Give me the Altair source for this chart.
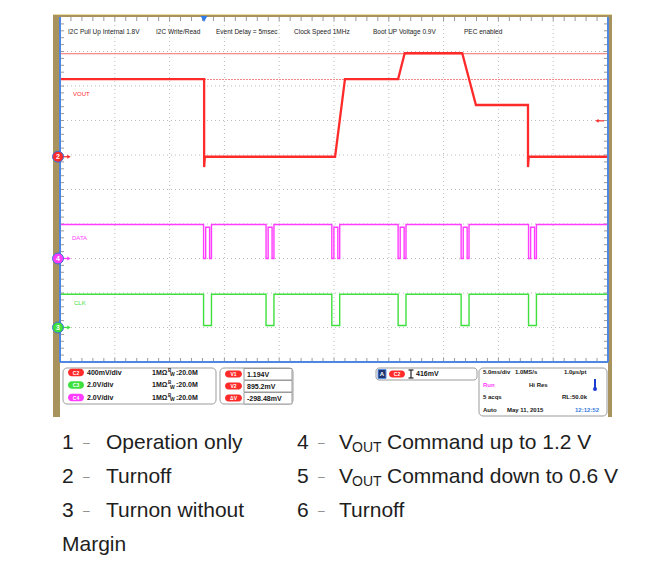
import altair as alt
import pandas as pd

# ---------------- values ----------------
# time axis: 5 ms/div, 10 divisions
vout_time_ms = [0.0, 13.15, 13.15, 13.22, 25.10, 26.00, 30.85, 31.45, 36.70, 37.95, 42.70, 42.70, 42.77, 50.0]
vout_volts = [0.90, 0.90, -0.12, 0.00, 0.00, 0.90, 0.90, 1.20, 1.20, 0.60, 0.60, -0.12, 0.00, 0.00]

burst_start_ms = [13.10, 18.80, 24.80, 30.85, 36.60, 42.75]
data_high_v = 1.97
clk_high_v = 1.93
data_pulse_dt_ms = [0.0, 0.0, 0.19, 0.19, 0.55, 0.55, 0.72, 0.72]
data_pulse_level = [1.0, 0.0, 0.0, 0.92, 0.92, 0.0, 0.0, 1.0]
clk_pulse_dt_ms = [0.0, 0.0, 0.72, 0.72]
clk_pulse_level = [1.0, 0.06, 0.06, 1.0]

channel_names = ["VOUT", "DATA", "CLK"]
channel_ids = ["2", "4", "3"]
channel_volts_per_div = [0.4, 2.0, 2.0]
channel_ground_div = [5.95, 3.0, 1.0]
channel_colors = ["#ff2b2b", "#ff3cff", "#3ee03e"]

cursor_volts = [1.194, 0.8952]
trigger_level_v = 0.416
trigger_time_ms = 13.14

grid_time_ms = [5, 10, 15, 20, 25, 30, 35, 40, 45]
grid_div = [1, 2, 3, 4, 5, 6, 7, 8, 9]
minor_time_ms = list(range(1, 50))
minor_div = [round(0.2 * i, 1) for i in range(1, 50)]

header_notes = ["I2C Pull Up Internal 1.8V", "I2C Write/Read", "Event Delay = 5msec",
                "Clock Speed 1MHz", "Boot UP Voltage 0.9V", "PEC enabled"]

# ---------------- layout helpers ----------------
W, H = 548, 345
X0, Y0 = 60, 17
PANEL_FONT = "Liberation Sans"
CAP_FONT = "Liberation Sans"

one = pd.DataFrame({"k": [0]})


def px(x):
    return x - X0


def py(y):
    return y - Y0


def txt(s, x, y, size=7, color="#151515", weight="normal", font=PANEL_FONT, align="left"):
    return alt.Chart(one).mark_text(text=s, fontSize=size, color=color, fontWeight=weight,
                                    font=font, align=align, baseline="middle").encode(
        x=alt.value(px(x)), y=alt.value(py(y)))


def box(x1, y1, x2, y2, fill="white", stroke=None, sw=1, r=0):
    kw = dict(fill=fill, cornerRadius=r)
    if stroke:
        kw.update(stroke=stroke, strokeWidth=sw)
    return alt.Chart(one).mark_rect(**kw).encode(
        x=alt.value(px(x1)), x2=alt.value(px(x2)), y=alt.value(py(y1)), y2=alt.value(py(y2)))


def seg(x1, y1, x2, y2, color, sw=1, dash=None):
    kw = dict(color=color, strokeWidth=sw)
    if dash:
        kw["strokeDash"] = dash
    return alt.Chart(one).mark_rule(**kw).encode(
        x=alt.value(px(x1)), x2=alt.value(px(x2)), y=alt.value(py(y1)), y2=alt.value(py(y2)))


xs = alt.X("t:Q", scale=alt.Scale(domain=[0, 50], nice=False, zero=False), axis=None)
ys = alt.Y("div:Q", scale=alt.Scale(domain=[0, 10], nice=False, zero=False), axis=None)

# ---------------- tables ----------------
vout_df = pd.DataFrame({"t": vout_time_ms, "v": vout_volts})
vout_df["div"] = channel_ground_div[0] + vout_df["v"] / channel_volts_per_div[0]
vout_df["i"] = range(len(vout_df))


def burst_table(high, dts, lvls, ch):
    t, v = [0.0], [high]
    for t0 in burst_start_ms:
        for dt, l in zip(dts, lvls):
            t.append(t0 + dt)
            v.append(high * l)
    t.append(50.0)
    v.append(high)
    df = pd.DataFrame({"t": t, "v": v})
    df["div"] = channel_ground_div[ch] + df["v"] / channel_volts_per_div[ch]
    df["i"] = range(len(df))
    return df


data_df = burst_table(data_high_v, data_pulse_dt_ms, data_pulse_level, 1)
clk_df = burst_table(clk_high_v, clk_pulse_dt_ms, clk_pulse_level, 2)

cursor_df = pd.DataFrame({"v": cursor_volts, "name": ["V1", "V2"]})
cursor_df["div"] = channel_ground_div[0] + cursor_df["v"] / channel_volts_per_div[0]

marker_df = pd.DataFrame({"id": channel_ids, "div": channel_ground_div, "color": channel_colors})

layers = []

# scope frame
layers.append(box(53, 14, 612, 417, fill="#a8935f"))
layers.append(seg(53, 14.5, 612, 14.5, "#e9dca4", 1))
layers.append(box(60, 17, 608, 417, fill="white"))

# graticule
layers.append(alt.Chart(pd.DataFrame({"t": grid_time_ms})).mark_rule(
    color="#bcbcbc", strokeWidth=1, strokeDash=[1, 3]).encode(x=xs))
layers.append(alt.Chart(pd.DataFrame({"div": grid_div})).mark_rule(
    color="#bcbcbc", strokeWidth=1, strokeDash=[1, 3]).encode(y=ys))

# minor ticks on the frame
mt = pd.DataFrame({"t": minor_time_ms})
md = pd.DataFrame({"div": minor_div})
layers.append(alt.Chart(mt).mark_rule(color="#9a9a9a").encode(x=xs, y=alt.value(0), y2=alt.value(4)))
layers.append(alt.Chart(mt).mark_rule(color="#9a9a9a").encode(x=xs, y=alt.value(H - 4), y2=alt.value(H)))
layers.append(alt.Chart(md).mark_rule(color="#9a9a9a").encode(y=ys, x=alt.value(0), x2=alt.value(4)))
layers.append(alt.Chart(md).mark_rule(color="#9a9a9a").encode(y=ys, x=alt.value(W - 4), x2=alt.value(W)))

# cursors
layers.append(alt.Chart(cursor_df[cursor_df.name == "V1"]).mark_rule(color="#f26b6b", strokeWidth=1).encode(y=ys))
layers.append(alt.Chart(cursor_df[cursor_df.name == "V2"]).mark_rule(
    color="#f08a8a", strokeWidth=1, strokeDash=[2, 1]).encode(y=ys))

# traces
layers.append(alt.Chart(data_df).mark_line(color=channel_colors[1], strokeWidth=1.4).encode(
    x=xs, y=ys, order="i:Q"))
layers.append(alt.Chart(clk_df).mark_line(color=channel_colors[2], strokeWidth=1.4).encode(
    x=xs, y=ys, order="i:Q"))
layers.append(alt.Chart(vout_df).mark_line(color=channel_colors[0], strokeWidth=2.3).encode(
    x=xs, y=ys, order="i:Q"))

# frame border (blue)
layers.append(seg(60, 17, 60, 362, "#4f86e0", 2))
layers.append(seg(60, 362, 608, 362, "#4f86e0", 2))
layers.append(seg(608, 17, 608, 362, "#4f86e0", 2))

# channel labels
layers.append(txt("VOUT", 73, 94, size=6, color=channel_colors[0]))
layers.append(txt("DATA", 72, 238, size=6, color=channel_colors[1]))
layers.append(txt("CLK", 74, 303, size=6, color=channel_colors[2]))

# ground markers
layers.append(alt.Chart(marker_df).mark_point(shape="triangle-right", filled=True, size=16, opacity=1).encode(
    y=ys, x=alt.value(9), color=alt.Color("color:N", scale=None)))
layers.append(alt.Chart(marker_df).mark_rule(strokeWidth=1.2).encode(
    y=ys, x=alt.value(2), x2=alt.value(8), color=alt.Color("color:N", scale=None)))
layers.append(alt.Chart(marker_df).mark_circle(size=120, opacity=1, stroke="#3b6fd8", strokeWidth=1).encode(
    y=ys, x=alt.value(-2), color=alt.Color("color:N", scale=None)))
layers.append(alt.Chart(marker_df).mark_text(fontSize=7, fontWeight="bold", color="white",
                                             font=PANEL_FONT).encode(
    y=ys, x=alt.value(-2), text="id:N"))

# trigger markers
layers.append(alt.Chart(pd.DataFrame({"t": [trigger_time_ms]})).mark_point(
    shape="triangle-down", filled=True, size=45, color="#2f7be8", opacity=1).encode(x=xs, y=alt.value(2)))
trig_df = pd.DataFrame({"div": [channel_ground_div[0] + trigger_level_v / channel_volts_per_div[0]]})
layers.append(alt.Chart(trig_df).mark_rule(color="#ff2b2b", strokeWidth=1.2).encode(
    y=ys, x=alt.value(px(598)), x2=alt.value(px(604))))
layers.append(alt.Chart(trig_df).mark_point(shape="triangle-left", filled=True, size=14,
                                            color="#ff2b2b", opacity=1).encode(y=ys, x=alt.value(px(597))))

# header notes
for s, x in zip(header_notes, [68, 156, 216, 294, 373, 464]):
    layers.append(txt(s, x, 32, size=6.5, color="#222222"))

# ---------------- info panel ----------------
ROWS = [372.5, 385, 397.5]
layers.append(box(63, 368, 216, 404, stroke="#9b9b9b", r=4))
for (lab, col, vdiv), y in zip([("C2", channel_colors[0], "400mV/div"), ("C3", channel_colors[2], "2.0V/div"),
                                ("C4", channel_colors[1], "2.0V/div")], ROWS):
    layers.append(box(68, y - 3.8, 84, y + 3.8, fill=col, r=3.8))
    layers.append(txt(lab, 76, y, size=5, color="white", align="center", weight="bold"))
    layers.append(txt(vdiv, 87, y, weight="bold"))
    layers.append(txt("1MΩ", 152, y, weight="bold"))
    layers.append(txt("B", 168, y - 2, size=4.5, weight="bold"))
    layers.append(txt("W", 170, y + 1.5, size=5, weight="bold"))
    layers.append(txt(":20.0M", 176, y, weight="bold"))

layers.append(box(220, 368, 293, 404, stroke="#9b9b9b", r=4))
for (lab, val), y0 in zip([("V1", "1.194V"), ("V2", "895.2mV"), ("ΔV", "-298.48mV")], [368, 380, 392]):
    layers.append(box(244, y0 + 0.5, 292, y0 + 12, stroke="#9b9b9b"))
    layers.append(box(225, y0 + 2.5, 242, y0 + 9.5, fill=channel_colors[0], r=3.5))
    layers.append(txt(lab, 233.5, y0 + 6, size=5, color="white", align="center", weight="bold"))
    layers.append(txt(val, 247, y0 + 6.5, weight="bold"))

layers.append(box(376, 368, 477, 380, stroke="#9b9b9b", r=3))
layers.append(box(378, 369.5, 386, 378.5, fill="#1e3570", stroke="#5d8ee6"))
layers.append(txt("A", 382, 374, size=6, color="white", align="center", weight="bold"))
layers.append(box(389, 370.5, 405, 377.5, fill=channel_colors[0], r=3.5))
layers.append(txt("C2", 397, 374, size=5, color="white", align="center", weight="bold"))
layers.append(seg(411, 370, 411, 378, "#222222", 1.2))
layers.append(seg(408.5, 370, 413.5, 370, "#222222", 1.2))
layers.append(seg(408.5, 378, 413.5, 378, "#222222", 1.2))
layers.append(txt("416mV", 416, 374, weight="bold"))

layers.append(box(479, 368, 607, 416, stroke="#9b9b9b", r=4))
P4 = 6.0
layers.append(txt("5.0ms/div", 483, 372, size=P4, weight="bold"))
layers.append(txt("1.0MS/s", 515, 372, size=P4, weight="bold"))
layers.append(txt("1.0µs/pt", 564, 372, size=P4, weight="bold"))
layers.append(txt("Run", 483, 385, size=P4, color="#ff3cff", weight="bold"))
layers.append(txt("Hi Res", 529, 385, size=P4, weight="bold"))
layers.append(seg(595, 379, 595, 388, "#1c3bd0", 2))
layers.append(alt.Chart(one).mark_circle(size=16, color="#1c3bd0", opacity=1).encode(
    x=alt.value(px(595)), y=alt.value(py(389))))
layers.append(txt("5 acqs", 483, 397, size=P4, weight="bold"))
layers.append(txt("RL:50.0k", 562, 397, size=P4, weight="bold"))
layers.append(txt("Auto", 483, 410, size=P4, weight="bold"))
layers.append(txt("May 11, 2015", 507, 410, size=P4, weight="bold"))
layers.append(txt("12:12:52", 575, 410, size=P4, color="#3a7de0", weight="bold"))

# ---------------- caption ----------------
CS = 21
CC = "#1e1e1e"
DC = "#8a8a8a"


def cap(num, x, y):
    return [txt(num, x, y, size=CS, color=CC, font=CAP_FONT),
            txt("–", x + 21, y, size=12, color=DC, font=CAP_FONT)]


for num, label, y in [("1", "Operation only", 443), ("2", "Turnoff", 477), ("3", "Turnon without", 511)]:
    layers += cap(num, 62, y)
    layers.append(txt(label, 106, y, size=CS, color=CC, font=CAP_FONT))
layers.append(txt("Margin", 62, 545, size=CS, color=CC, font=CAP_FONT))

for num, label, y in [("4", "Command up to 1.2 V", 443), ("5", "Command down to 0.6 V", 477)]:
    layers += cap(num, 297, y)
    layers.append(txt("V", 339, y, size=CS, color=CC, font=CAP_FONT))
    layers.append(txt("OUT", 352, y + 5, size=14, color=CC, font=CAP_FONT))
    layers.append(txt(label, 387, y, size=CS, color=CC, font=CAP_FONT))
layers += cap("6", 297, 511)
layers.append(txt("Turnoff", 339, 511, size=CS, color=CC, font=CAP_FONT))

chart = alt.layer(*layers).properties(
    width=W, height=H, autosize="none",
    padding={"left": X0 - 8, "top": Y0 - 8, "right": 653 - 608, "bottom": 555 - 362},
    background="white",
).configure_view(stroke=None)

chart.save("out.html", embed_options={"renderer": "svg", "actions": False})
